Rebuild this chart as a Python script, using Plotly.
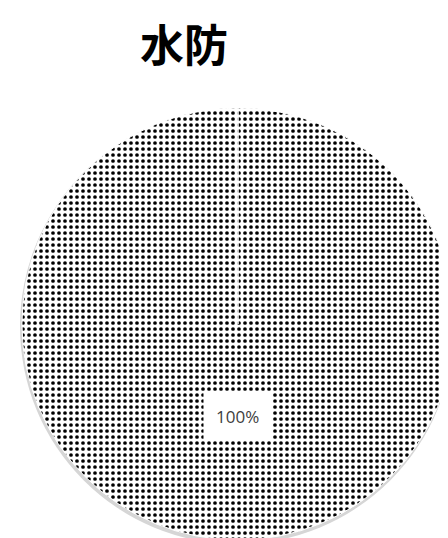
import plotly.graph_objects as go

labels = ["水防"]
values = [100]
text_labels = ["100%"]
title_text = "水防"

W, H = 448, 538
cx, cy, r = 230, 316, 216


def px(x):
    return x / W


def py(y):
    return (H - y) / H


fig = go.Figure()
fig.add_trace(go.Pie(
    labels=labels,
    values=values,
    sort=False,
    direction="clockwise",
    rotation=0,
    textinfo="none",
    hoverinfo="label+percent",
    marker=dict(
        colors=["white"],
        line=dict(color="white", width=1),
        pattern=dict(shape=".", fgcolor="black", bgcolor="white", size=6, solidity=0.3),
    ),
    domain=dict(x=[px(cx - r), px(cx + r)], y=[py(cy + r), py(cy - r)]),
    showlegend=False,
))

# soft shadow under the pie
fig.add_shape(type="circle", xref="paper", yref="paper", layer="below",
              x0=px(cx - r - 2), x1=px(cx + r), y0=py(cy + r + 4), y1=py(cy - r + 1),
              fillcolor="#d6d6d6", line=dict(width=0))
# slice border from centre to 12 o'clock
fig.add_shape(type="line", xref="paper", yref="paper",
              x0=px(cx), x1=px(cx), y0=py(cy), y1=py(cy - r),
              line=dict(color="white", width=1.5))

fig.add_annotation(
    x=px(cx), y=py(408), xref="paper", yref="paper",
    xanchor="center", yanchor="middle",
    text=text_labels[0], showarrow=False,
    font=dict(family="Open Sans, Liberation Sans", size=17, color="#404040"),
    bgcolor="white", borderpad=12,
)
fig.add_annotation(
    x=px(176), y=py(35), xref="paper", yref="paper",
    xanchor="center", yanchor="middle",
    text="<b>" + title_text + "</b>", showarrow=False,
    font=dict(family="Noto Sans CJK JP", size=44, color="black"),
    borderpad=0,
)

fig.update_layout(
    width=W, height=H,
    margin=dict(l=0, r=0, t=0, b=0),
    paper_bgcolor="white", plot_bgcolor="white",
)
fig.write_html("out.html")
